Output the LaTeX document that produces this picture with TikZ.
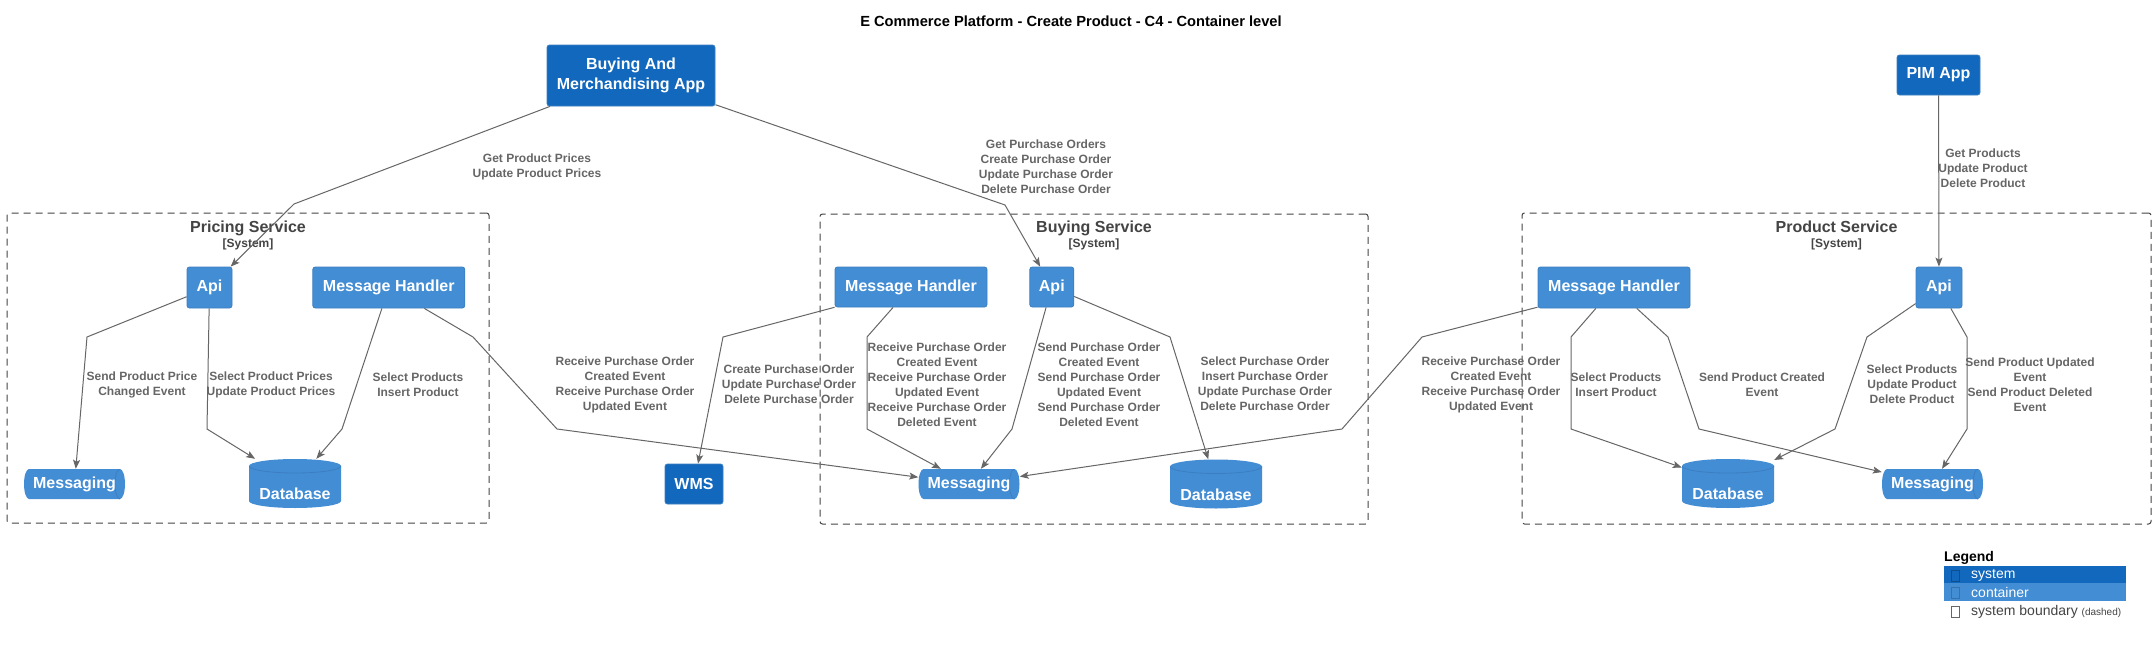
\documentclass[tikz,border=0pt]{standalone}
\usepackage{fontspec}
\setmainfont{Liberation Sans}
\usetikzlibrary{arrows.meta,positioning}

\definecolor{sysfill}{HTML}{1168BD}
\definecolor{contfill}{HTML}{438DD5}
\definecolor{boxline}{HTML}{3C7FC0}
\definecolor{relcol}{HTML}{666666}
\definecolor{bndcol}{HTML}{444444}

\newcommand\nodefont{\bfseries\fontsize{16}{20}\selectfont}
\newcommand\relfont{\bfseries\fontsize{12}{15}\selectfont}
\newcommand\bndfont{\bfseries\fontsize{16}{18}\selectfont}
\newcommand\typefont{\bfseries\fontsize{12}{14}\selectfont}

\tikzset{
  sys/.style={rectangle, rounded corners=2.5pt, draw=boxline, line width=0.8pt, fill=sysfill,
    text=white, font=\nodefont, inner sep=0pt, align=center},
  cont/.style={sys, fill=contfill},
  db/.style={rectangle, minimum width=92pt, minimum height=49pt, inner sep=0pt, text=white,
    font=\nodefont, text height=32pt, text depth=0pt, path picture={
      \fill[contfill] ([yshift=-7pt]path picture bounding box.north west)
        -- ([yshift=7pt]path picture bounding box.south west)
        arc[start angle=180, end angle=360, x radius=46pt, y radius=7pt]
        -- ([yshift=-7pt]path picture bounding box.north east)
        arc[start angle=0, end angle=180, x radius=46pt, y radius=7pt] -- cycle;
      \draw[boxline, line width=0.8pt] ([yshift=-7pt]path picture bounding box.north west)
        arc[start angle=180, end angle=360, x radius=46pt, y radius=7pt];}},
  queue/.style={rectangle, minimum width=101pt, minimum height=30pt, inner sep=0pt, text=white,
    font=\nodefont, path picture={
      \fill[contfill] ([xshift=5pt]path picture bounding box.north west)
        -- ([xshift=-5pt]path picture bounding box.north east)
        arc[start angle=90, end angle=-90, x radius=5pt, y radius=15pt]
        -- ([xshift=5pt]path picture bounding box.south west)
        arc[start angle=270, end angle=90, x radius=5pt, y radius=15pt] -- cycle;
      \draw[boxline, line width=0.8pt] ([xshift=-5pt]path picture bounding box.north east)
        arc[start angle=90, end angle=270, x radius=5pt, y radius=15pt];}},
  bnd/.style={rectangle, draw=bndcol, line width=1pt, dash pattern=on 7pt off 5pt,
    rounded corners=2.5pt, inner sep=0pt},
  bndname/.style={font=\bndfont, text=bndcol, inner sep=0pt, text height=11.5pt, text depth=0pt},
  bndtype/.style={font=\typefont, text=bndcol, inner sep=0pt},
  rel/.style={draw=relcol, line width=1pt, -{Stealth[length=9pt, width=7pt, inset=2pt]}},
  lbl/.style={font=\relfont, text=relcol, align=center, inner sep=0pt},
  legbar/.style={rectangle, minimum width=182pt, inner sep=0pt},
  legtxt/.style={font=\fontsize{14}{16}\selectfont, inner sep=0pt, anchor=west},
  tofu/.style={rectangle, minimum width=8pt, minimum height=11pt, inner sep=0pt, line width=0.8pt}
}

\begin{document}
\begin{tikzpicture}[x=1pt, y=-1pt]
  \path[use as bounding box, fill=white] (0,0) rectangle (2156,645);

  \node[font=\bfseries\fontsize{14.67}{17}\selectfont, inner sep=0pt] (title) at (1071,21)
    {E Commerce Platform - Create Product - C4 - Container level};

  % system boundaries
  \node[bnd, minimum width=482pt, minimum height=310pt] (pSys) at (248,368) {};
  \node[bndname] (pName) at (248,227) {Pricing Service};
  \node[bndtype, below=5.6pt of pName] (pType) {[System]};

  \node[bnd, minimum width=548pt, minimum height=310pt] (bSys) at (1094,369) {};
  \node[bndname] (bName) at (1094,227) {Buying Service};
  \node[bndtype, below=5.6pt of bName] (bType) {[System]};

  \node[bnd, minimum width=629pt, minimum height=311pt] (rSys) at (1836.5,368.5) {};
  \node[bndname] (rName) at (1836.5,227) {Product Service};
  \node[bndtype, below=5.6pt of rName] (rType) {[System]};

  % systems
  \node[sys, minimum width=168pt, minimum height=61pt] (bma) at (631,75.5) {Buying And\\Merchandising App};
  \node[sys, minimum width=83pt, minimum height=40pt] (pim) at (1938.5,75) {PIM App};
  \node[sys, minimum width=58pt, minimum height=40pt] (wms) at (694,484) {WMS};

  % containers
  \node[cont, minimum width=45pt, minimum height=41pt] (pApi) at (209.5,287.5) {Api};
  \node[cont, minimum width=152pt, minimum height=41pt, right=80pt of pApi] (pMH) {Message Handler};
  \node[queue] (pMsg) at (74.5,484) {Messaging};
  \node[db] (pDb) at (295,483.5) {Database};

  \node[cont, minimum width=152pt, minimum height=40pt] (bMH) at (911,287) {Message Handler};
  \node[cont, minimum width=44pt, minimum height=40pt, right=42pt of bMH] (bApi) {Api};
  \node[queue] (bMsg) at (969,484) {Messaging};
  \node[db] (bDb) at (1216,484) {Database};

  \node[cont, minimum width=152pt, minimum height=41pt] (rMH) at (1614,287.5) {Message Handler};
  \node[cont, minimum width=46pt, minimum height=41pt] (rApi) at (1939,287.5) {Api};
  \node[db] (rDb) at (1728,483.5) {Database};
  \node[queue] (rMsg) at (1932.5,484) {Messaging};

  % relations
  \draw[rel] (bma) -- (294,204) -- (pApi);
  \draw[rel] (bma) -- (1005,205) -- (bApi);
  \draw[rel] (pim) -- (rApi);
  \draw[rel] (pApi) -- (87,337) -- (pMsg);
  \draw[rel] (pApi) -- (207,429) -- (pDb);
  \draw[rel] (pMH) -- (342,429) -- (pDb);
  \draw[rel] (pMH) -- (473,337) -- (557,429) -- (bMsg);
  \draw[rel] (bMH) -- (723,337) -- (wms);
  \draw[rel] (bMH) -- (867,337) -- (867,429) -- (bMsg);
  \draw[rel] (bApi) -- (1012,429) -- (bMsg);
  \draw[rel] (bApi) -- (1170,337) -- (bDb);
  \draw[rel] (rMH) -- (1422,337) -- (1342,429) -- (bMsg);
  \draw[rel] (rMH) -- (1571,337) -- (1571,429) -- (rDb);
  \draw[rel] (rMH) -- (1668,337) -- (1699,429) -- (rMsg);
  \draw[rel] (rApi) -- (1867,337) -- (1835,429) -- (rDb);
  \draw[rel] (rApi) -- (1967,337) -- (1967,429) -- (rMsg);

  \node[lbl] (l1) at (537,166.5) {Get Product Prices\\Update Product Prices};
  \node[lbl] (l2) at (1046,167) {Get Purchase Orders\\Create Purchase Order\\Update Purchase Order\\Delete Purchase Order};
  \node[lbl] (l3) at (1983,168) {Get Products\\Update Product\\Delete Product};
  \node[lbl] (l4) at (142,385) {Send Product Price\\Changed Event};
  \node[lbl] (l5) at (271,385) {Select Product Prices\\Update Product Prices};
  \node[lbl] (l6) at (418,385) {Select Products\\Insert Product};
  \node[lbl] (l7) at (625,385) {Receive Purchase Order\\Created Event\\Receive Purchase Order\\Updated Event};
  \node[lbl] (l8) at (789,384.5) {Create Purchase Order\\Update Purchase Order\\Delete Purchase Order};
  \node[lbl] (l9) at (937,385) {Receive Purchase Order\\Created Event\\Receive Purchase Order\\Updated Event\\Receive Purchase Order\\Deleted Event};
  \node[lbl] (l10) at (1099,385) {Send Purchase Order\\Created Event\\Send Purchase Order\\Updated Event\\Send Purchase Order\\Deleted Event};
  \node[lbl] (l11) at (1265,384) {Select Purchase Order\\Insert Purchase Order\\Update Purchase Order\\Delete Purchase Order};
  \node[lbl] (l12) at (1491,385) {Receive Purchase Order\\Created Event\\Receive Purchase Order\\Updated Event};
  \node[lbl] (l13) at (1616,385) {Select Products\\Insert Product};
  \node[lbl] (l14) at (1762,385) {Send Product Created\\Event};
  \node[lbl] (l15) at (1912,384.5) {Select Products\\Update Product\\Delete Product};
  \node[lbl] (l16) at (2030,385) {Send Product Updated\\Event\\Send Product Deleted\\Event};

  % legend
  \node[font=\bfseries\fontsize{14}{16}\selectfont, inner sep=0pt, anchor=west] (legHead) at (1944,558) {Legend};
  \node[legbar, fill=sysfill, minimum height=17pt] (legSys) at (2035,574.5) {};
  \node[legbar, fill=contfill, minimum height=18pt] (legCont) at (2035,592) {};
  \node[tofu, draw=sysfill!75!black] (legSysIco) at (1955,576) {};
  \node[tofu, draw=contfill!80!black] (legContIco) at (1955,593) {};
  \node[tofu, draw=relcol] (legBndIco) at (1955,612) {};
  \node[legtxt, text=white] (legSysTxt) at (1971,575.5) {system};
  \node[legtxt, text=white] (legContTxt) at (1971,592.5) {container};
  \node[legtxt, text=bndcol] (legBndTxt) at (1971,612)
    {system boundary {\fontsize{10}{12}\selectfont (dashed)}};
\end{tikzpicture}
\end{document}
